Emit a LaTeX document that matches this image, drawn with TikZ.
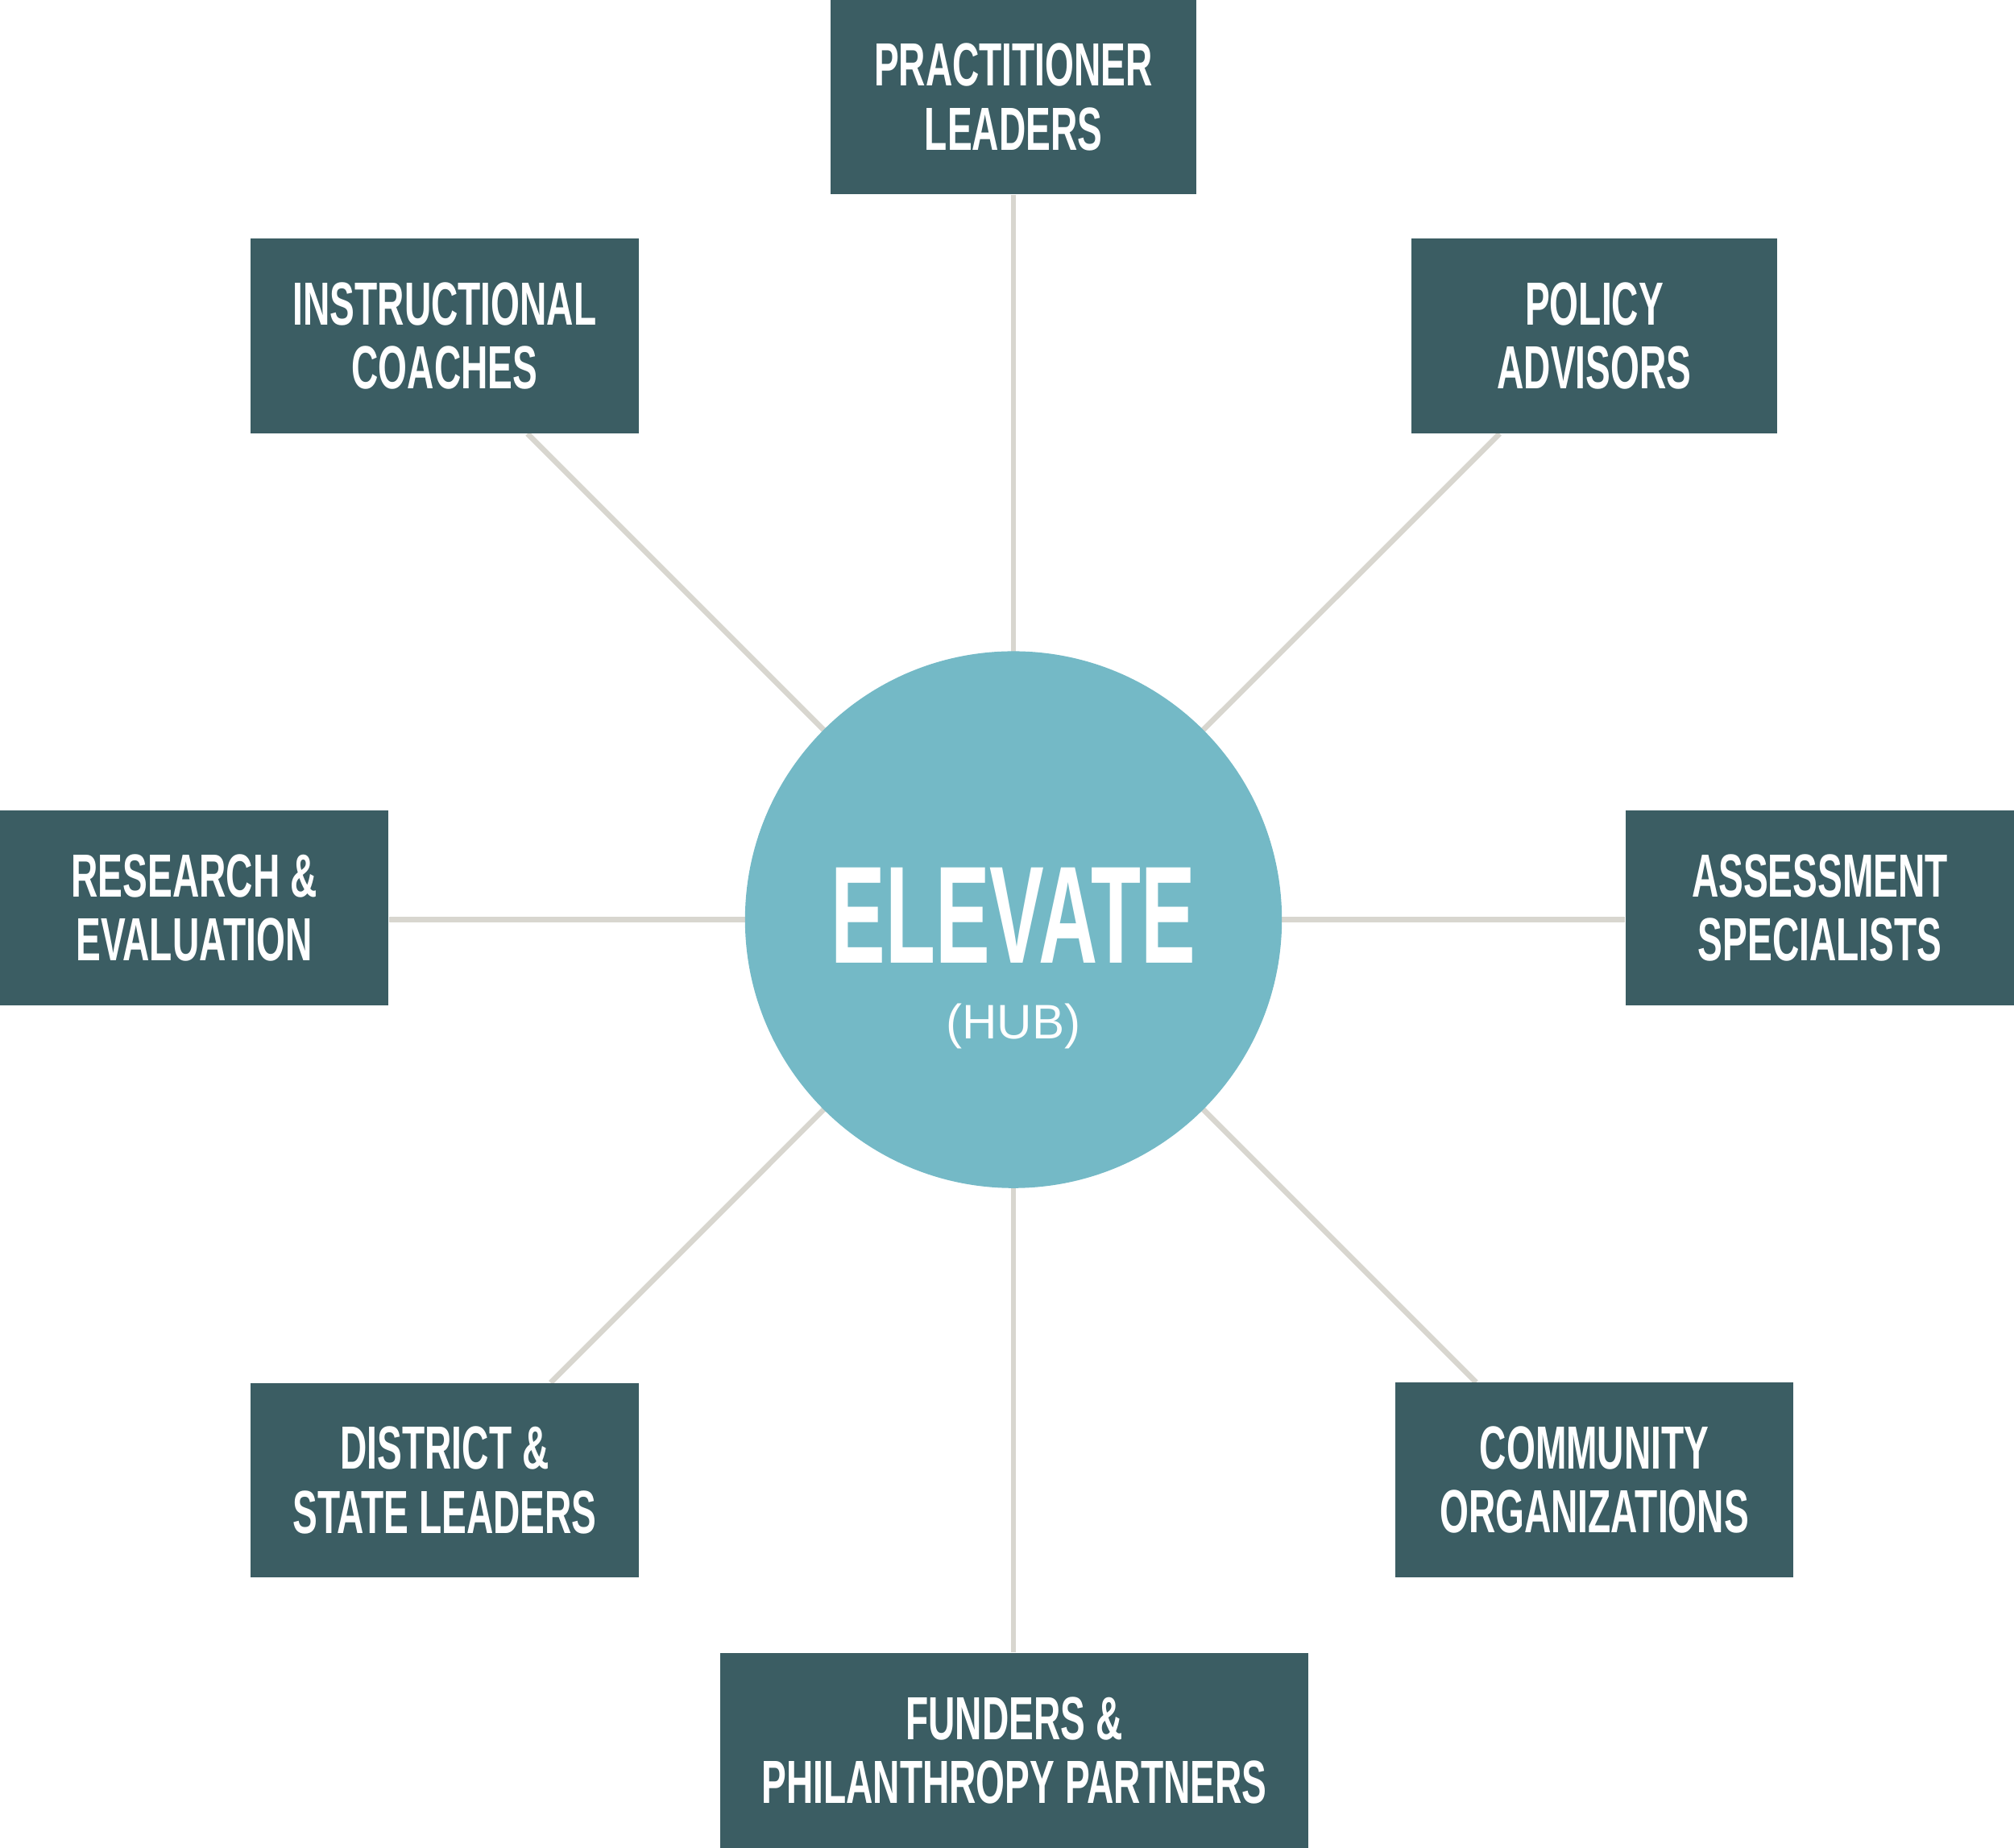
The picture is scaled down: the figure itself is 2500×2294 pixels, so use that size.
\documentclass[tikz,border=0pt]{standalone}
\usepackage{fontspec}
\setmainfont{Liberation Sans}
\newfontfamily\partnerfont[FakeStretch=0.61]{Liberation Sans}
\newfontfamily\hubfont[FakeStretch=0.59]{Liberation Sans}
\usetikzlibrary{calc, backgrounds}
\definecolor{partnerteal}{HTML}{3B5D63}
\definecolor{hubblue}{HTML}{74B9C6}
\definecolor{spokegray}{HTML}{D8D6CF}
\tikzset{
  partner/.style={rectangle, minimum height=2.41cm, inner sep=0pt, align=center, fill=partnerteal, text=white, font=\partnerfont\bfseries\fontsize{21.5}{22.5}\selectfont},
  hubcircle/.style={circle, minimum size=6.66cm, inner sep=0pt, fill=hubblue},
  hubtext/.style={anchor=base, text=white, inner sep=0pt},
  spoke/.style={draw=spokegray, line width=1.9pt}
}

\begin{document}
\begin{tikzpicture}[x=0.01cm, y=-0.01cm]
        \useasboundingbox (0,0) rectangle (2500,2294);

        \node (hub) [hubcircle] at (1258,1141.6) {};
        \node (elevate) [hubtext, font=\hubfont\bfseries\fontsize{48.9}{50}\selectfont] at ([yshift=-15.2pt]hub.center) {ELEVATE};
        \node (hubtag) [hubtext, font=\fontsize{17.1}{18}\selectfont] at ([yshift=-42pt]hub.center) {(HUB)};

        \node (prac) [partner, minimum width=4.53cm] at (1258,120.5) {PRACTITIONER\\LEADERS};
        \node (coach) [partner, minimum width=4.82cm] at (552,417) {INSTRUCTIONAL\\COACHES};
        \node (policy) [partner, minimum width=4.53cm] at (1979,417) {POLICY\\ADVISORS};
        \node (research) [partner, minimum width=4.82cm] at (241,1127) {RESEARCH \&\\EVALUATION};
        \node (assess) [partner, minimum width=4.82cm] at (2259,1127) {ASSESSMENT\\SPECIALISTS};
        \node (district) [partner, minimum width=4.82cm] at (552,1837.5) {DISTRICT \&\\STATE LEADERS};
        \node (community) [partner, minimum width=4.94cm] at (1979,1837) {COMMUNITY\\ORGANIZATIONS};
        \node (funders) [partner, minimum width=7.29cm, minimum height=2.42cm] at (1259,2173) {FUNDERS \&\\PHILANTHROPY PARTNERS};

        % 45 degree directions out of the hub
        \coordinate (nw) at ($(hub.center)+(-100,-100)$);
        \coordinate (ne) at ($(hub.center)+(100,-100)$);
        \coordinate (sw) at ($(hub.center)+(-100,100)$);
        \coordinate (se) at ($(hub.center)+(100,100)$);

        \begin{scope}[on background layer]
        \draw [spoke] (hub.center) -- (prac.south);
        \draw [spoke] (hub.center) -- (hub.center |- funders.north);
        \draw [spoke] (hub.center) -- (hub.center -| research.east);
        \draw [spoke] (hub.center) -- (hub.center -| assess.west);
        \draw [spoke] (hub.center) -- (intersection of hub.center--nw and coach.south west--coach.south east);
        \draw [spoke] (hub.center) -- (intersection of hub.center--ne and policy.south west--policy.south east);
        \draw [spoke] (hub.center) -- (intersection of hub.center--sw and district.north west--district.north east);
        \draw [spoke] (hub.center) -- (intersection of hub.center--se and community.north west--community.north east);
        \end{scope}
    \end{tikzpicture}
\end{document}
